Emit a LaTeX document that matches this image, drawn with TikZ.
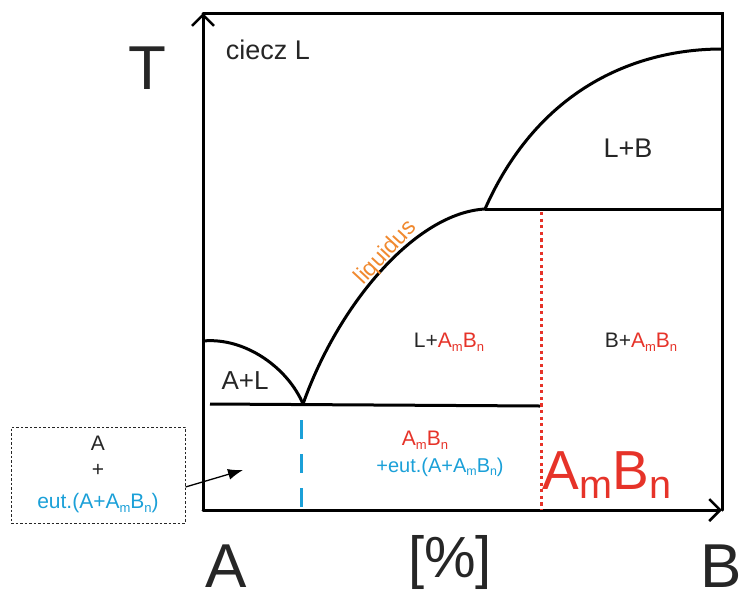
\documentclass[tikz,border=0pt]{standalone}
\usepackage{fontspec}
\usepackage{graphicx}
\setmainfont{Liberation Sans}
\usetikzlibrary{arrows.meta}
\definecolor{cred}{HTML}{E63329}
\definecolor{cblue}{HTML}{1BA0D8}
\definecolor{corange}{HTML}{F0892F}
\newcommand\sbs[1]{\raisebox{-0.17em}{\scalebox{0.62}{#1}}}
\newcommand\AmBn{A\sbs{m}B\sbs{n}}
\newcommand\fs[1]{\fontsize{#1}{#1}\selectfont}
\begin{document}
\begin{tikzpicture}[x=1pt,y=-1pt,
  ax/.style={line width=3pt,line cap=round},
  curve/.style={line width=3pt},
  lbl/.style={inner sep=0pt,text=black!85},
  axarrow/.style={-{Straight Barb[length=11pt,width=22pt,line width=2.5pt]}}]
\useasboundingbox (0,0) rectangle (747,590);
% frame
\coordinate (O) at (203,510);
\coordinate (TL) at (203,13);
\coordinate (TR) at (722,13);
\coordinate (BR) at (722,510);
\draw[ax] (TL) -- (TR) -- (BR);
\draw[ax,axarrow] (O) -- (TL);
\draw[ax,axarrow] (O) -- (BR);
% key points
\coordinate (E) at (303,404);
\coordinate (P) at (485,209);
\coordinate (Ltop) at (203,341);
\coordinate (Btop) at (722,49);
\coordinate (Eleft) at (210,404);
\coordinate (Eright) at (540,406);
\coordinate (Pright) at (722,209);
% curves
\draw[curve] (Ltop) .. controls (245,337) and (288,368) .. (E);
\draw[curve] (E) .. controls (338,305) and (415,213) .. (P);
\draw[curve] (P) .. controls (540,85) and (640,49) .. (Btop);
\draw[curve] (Eleft) -- (Eright);
\draw[curve] (P) -- (Pright);
% verticals
\coordinate (Rtop) at (541,212);
\coordinate (Rbot) at (541,510);
\draw[cred,line width=3pt,dash pattern=on 3.2pt off 3.4pt] (Rtop) -- (Rbot);
\coordinate (Dtop) at (301,420);
\coordinate (Dbot) at (301,508);
\draw[cblue,line width=3pt,dash pattern=on 19pt off 15pt] (Dtop) -- (Dbot);
% labels
\node[lbl,font=\fs{62}] (T) at (147,68) {T};
\node[lbl,font=\fs{62},anchor=base] (A) at (226,587) {A};
\node[lbl,font=\fs{62},anchor=base] (B) at (721,587) {B};
\node[lbl,font=\fs{58},anchor=base] (pct) at (450,577) {[\%]};
\node[lbl,font=\fs{27}] (ciecz) at (268,50) {ciecz L};
\node[lbl,font=\fs{27}] (LB) at (628,148) {L+B};
\node[lbl,font=\fs{26}] (AL) at (245,381) {A+L};
\node[lbl,font=\fs{21}] (LAB) at (449,342) {L+\textcolor{cred}{\AmBn}};
\node[lbl,font=\fs{21}] (BAB) at (641,342) {B+\textcolor{cred}{\AmBn}};
\node[lbl,font=\fs{21},text=cred] (ABc) at (425,440) {\AmBn};
\node[lbl,font=\fs{20},text=cblue] (eutc) at (440,467) {+eut.(A+\AmBn)};
\node[lbl,font=\fs{55},text=cred] (ABbig) at (607,475) {A\raisebox{-0.17em}{\scalebox{0.72}{m}}B\raisebox{-0.17em}{\scalebox{0.72}{n}}};
\node[inner sep=0pt,font=\fs{23},text=corange,rotate=47] (liq) at (386,253) {liquidus};
% box
\node[draw=black!85,line width=1pt,dash pattern=on 2.5pt off 2pt,minimum width=174pt,minimum height=96pt,inner sep=0pt] (box) at (98,475) {};
\node[lbl,font=\fs{21}] (bA) at (98,443) {A};
\node[lbl,font=\fs{21}] (bplus) at (98,470) {+};
\node[lbl,font=\fs{21},text=cblue] (beut) at (98,503) {eut.(A+\AmBn)};
\coordinate (arrEnd) at (243,470);
\draw[line width=1.3pt,-{Latex[length=15pt,width=11pt]}] (box.east |- 0,487) -- (arrEnd);
\end{tikzpicture}
\end{document}
